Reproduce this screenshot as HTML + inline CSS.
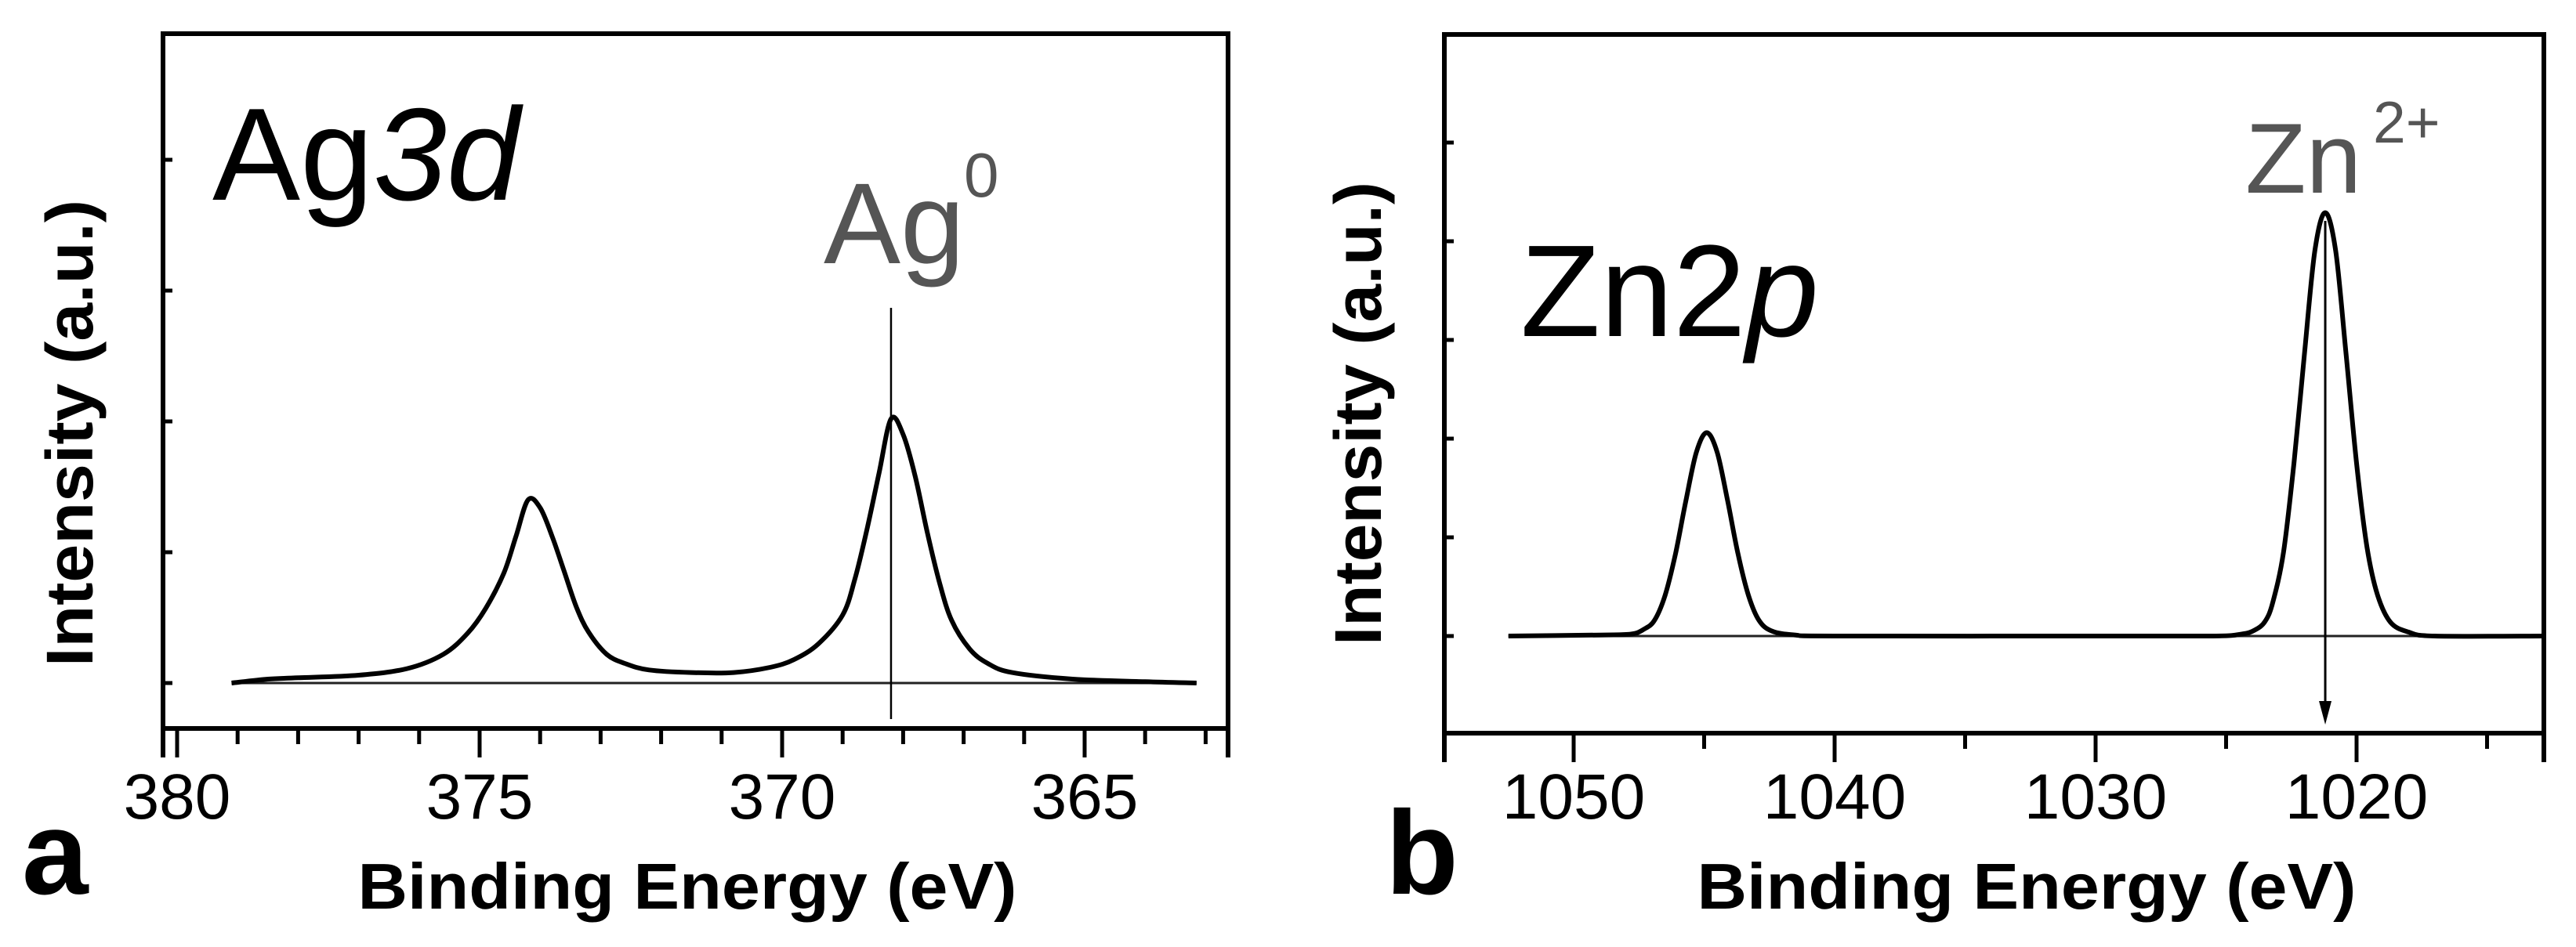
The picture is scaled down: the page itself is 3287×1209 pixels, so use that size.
<!DOCTYPE html>
<html><head><meta charset="utf-8"><style>
html,body{margin:0;padding:0;background:#fff;}
svg{display:block;}
text{font-family:"Liberation Sans",Arial,sans-serif;}
</style></head><body>
<svg id="fig" width="3287" height="1209" viewBox="0 0 3287 1209" xmlns="http://www.w3.org/2000/svg">
<g id="pa"></g>
<g id="pb"></g>
</svg>
<script>
// Panel a data (Ag 3d)
const aEnergy = [379.1,378.5,378,377,376.2,375.6,375.2,374.9,374.6,374.4,374.2,374.0,373.8,373.6,373.4,373.2,372.9,372.6,372.2,371.5,370.8,370.2,369.8,369.4,369.0,368.8,368.6,368.4,368.2,368.0,367.8,367.6,367.4,367.2,366.9,366.6,366.2,365.2,364,363.15];
const aIntensity = [0,0.03,0.04,0.06,0.11,0.22,0.38,0.57,0.84,1.12,1.40,1.34,1.12,0.85,0.58,0.39,0.22,0.15,0.10,0.08,0.08,0.12,0.18,0.30,0.52,0.79,1.17,1.60,2.02,1.90,1.58,1.15,0.77,0.48,0.26,0.15,0.08,0.03,0.01,0];
const aTickMajor = [380,375,370,365];
const aTickLabels = ["380","375","370","365"];
const aTickMinor = [379,378,377,376,374,373,372,371,369,368,367,366,364,363];
const aYTicks = [0,1,2,3,4];
const aMarker = 368.2;
// Panel b data (Zn 2p)
const bEnergy = [1052.5,1049,1047.8,1047.3,1046.9,1046.5,1046.1,1045.7,1045.3,1044.9,1044.5,1044.1,1043.7,1043.3,1042.9,1042.4,1041.5,1040,1030,1025.5,1024.4,1023.9,1023.5,1023.2,1022.8,1022.4,1022.0,1021.6,1021.2,1020.8,1020.4,1020.0,1019.6,1019.2,1018.7,1018,1017,1012.8];
const bIntensity = [0,0.01,0.02,0.07,0.16,0.41,0.83,1.37,1.86,2.06,1.86,1.37,0.83,0.41,0.16,0.05,0.01,0,0,0,0.02,0.06,0.15,0.35,0.85,1.75,2.85,3.9,4.29,3.9,2.85,1.75,0.9,0.42,0.14,0.04,0,0];
const bTickMajor = [1050,1040,1030,1020];
const bTickLabels = ["1050","1040","1030","1020"];
const bTickMinor = [1055,1045,1035,1025,1015];
const bYTicks = [0,1,2,3,4,5];
const bMarker = 1021.2;

const NS="http://www.w3.org/2000/svg";
function mk(parent,tag,attrs,txt){const e=document.createElementNS(NS,tag);for(const k in attrs)e.setAttribute(k,attrs[k]);if(txt!==undefined)e.textContent=txt;parent.appendChild(e);return e;}
function smooth(pts){let d="M"+pts[0][0]+","+pts[0][1];for(let i=0;i<pts.length-1;i++){const p0=pts[i-1]||pts[i],p1=pts[i],p2=pts[i+1],p3=pts[i+2]||p2;const c1x=p1[0]+(p2[0]-p0[0])/6,c1y=p1[1]+(p2[1]-p0[1])/6,c2x=p2[0]-(p3[0]-p1[0])/6,c2y=p2[1]-(p3[1]-p1[1])/6;d+=" C"+c1x.toFixed(1)+","+c1y.toFixed(1)+" "+c2x.toFixed(1)+","+c2y.toFixed(1)+" "+p2[0].toFixed(1)+","+p2[1].toFixed(1);}return d;}

function panel(g,cfg){
  const X=e=>cfg.x0+(cfg.e0-e)*cfg.pxPerEv;
  const Y=v=>cfg.yBase-v*cfg.pxPerUnit;
  const fr=mk(g,'rect',{x:cfg.L,y:cfg.T,width:cfg.R-cfg.L,height:cfg.B-cfg.T,fill:'none',stroke:'#000','stroke-width':6});
  
  
  mk(g,'line',{x1:cfg.L,y1:cfg.B,x2:cfg.L,y2:cfg.B+37,stroke:'#000','stroke-width':6});
  mk(g,'line',{x1:cfg.R,y1:cfg.B,x2:cfg.R,y2:cfg.B+37,stroke:'#000','stroke-width':6});
  cfg.major.forEach((e,i)=>{
    const t=mk(g,'line',{x1:X(e),y1:cfg.B,x2:X(e),y2:cfg.B+37,stroke:'#000','stroke-width':5});
    
    
    const l=mk(g,'text',{x:X(e),y:1045,'font-size':82,'text-anchor':'middle',fill:'#000'},cfg.labels[i]);
    
    
  });
  cfg.minor.forEach(e=>{
    const x=X(e); if(x<cfg.L-1||x>cfg.R+1) return;
    const t=mk(g,'line',{x1:x,y1:cfg.B,x2:x,y2:cfg.B+20,stroke:'#000','stroke-width':5});
    
    
  });
  cfg.yt.forEach(v=>{
    const t=mk(g,'line',{x1:cfg.L,y1:Y(v),x2:cfg.L+12,y2:Y(v),stroke:'#000','stroke-width':5});
    
    
  });
  const bl=mk(g,'line',{x1:X(cfg.en[0]),y1:Y(0),x2:X(cfg.en[cfg.en.length-1]),y2:Y(0),stroke:'#222','stroke-width':3});
  
  
  const pts=cfg.en.map((e,i)=>[X(e),Y(cfg.iv[i])]);
  const c=mk(g,'path',{d:smooth(pts),fill:'none',stroke:'#000','stroke-width':6,'stroke-linejoin':'round'});
  
  
  const yl=mk(g,'text',{x:0,y:0,'font-size':84,'font-weight':'bold','text-anchor':'middle',textLength:cfg.ylLen,lengthAdjust:'spacingAndGlyphs',transform:`translate(${cfg.ylx},${cfg.yly}) rotate(-90)`},'Intensity (a.u.)');
  
  
  const xl=mk(g,'text',{x:cfg.xlx,y:1160,'font-size':83,'font-weight':'bold','text-anchor':'middle',textLength:841,lengthAdjust:'spacingAndGlyphs'},'Binding Energy (eV)');
  
  
  return {X,Y};
}

const ga=document.getElementById('pa');
const A=panel(ga,{L:208,R:1567,T:43,B:930,x0:226,e0:380,pxPerEv:77.2,yBase:872,pxPerUnit:167,major:aTickMajor,labels:aTickLabels,minor:aTickMinor,yt:aYTicks,en:aEnergy,iv:aIntensity,ylx:118,yly:553,ylLen:596,xlx:877});
const am=mk(ga,'line',{x1:A.X(aMarker),y1:393,x2:A.X(aMarker),y2:918,stroke:'#000','stroke-width':2.5});


const at=mk(ga,'text',{x:271,y:255,'font-size':168,fill:'#000'});


mk(at,'tspan',{},'Ag');mk(at,'tspan',{'font-style':'italic'},'3d');
const a0=mk(ga,'text',{x:1051,y:336,'font-size':147,fill:'#555'},'Ag');


mk(ga,'text',{x:1230,y:251,'font-size':80,fill:'#555'},'0');
const la=mk(ga,'text',{x:28,y:1141,'font-size':152,'font-weight':'bold'},'a');



const gb=document.getElementById('pb');
const Bp=panel(gb,{L:1843,R:3246,T:44,B:936,x0:2008,e0:1050,pxPerEv:33.3,yBase:812,pxPerUnit:126,major:bTickMajor,labels:bTickLabels,minor:bTickMinor,yt:bYTicks,en:bEnergy,iv:bIntensity,ylx:1762,yly:528,ylLen:592,xlx:2586});
const bx=Bp.X(bMarker);
const bm=mk(gb,'line',{x1:bx,y1:282,x2:bx,y2:905,stroke:'#000','stroke-width':3});


mk(gb,'polygon',{points:`${bx-8},895 ${bx+8},895 ${bx},925`,fill:'#000'});
const bt=mk(gb,'text',{x:1940,y:429,'font-size':167,fill:'#000'});


mk(bt,'tspan',{},'Zn2');mk(bt,'tspan',{'font-style':'italic'},'p');
const z2=mk(gb,'text',{x:2865,y:246,'font-size':127,fill:'#555'},'Zn');


mk(gb,'text',{x:3028,y:182,'font-size':75,fill:'#555'},'2+');
const lb=mk(gb,'text',{x:1768,y:1141,'font-size':152,'font-weight':'bold'},'b');


</script>
</body></html>
